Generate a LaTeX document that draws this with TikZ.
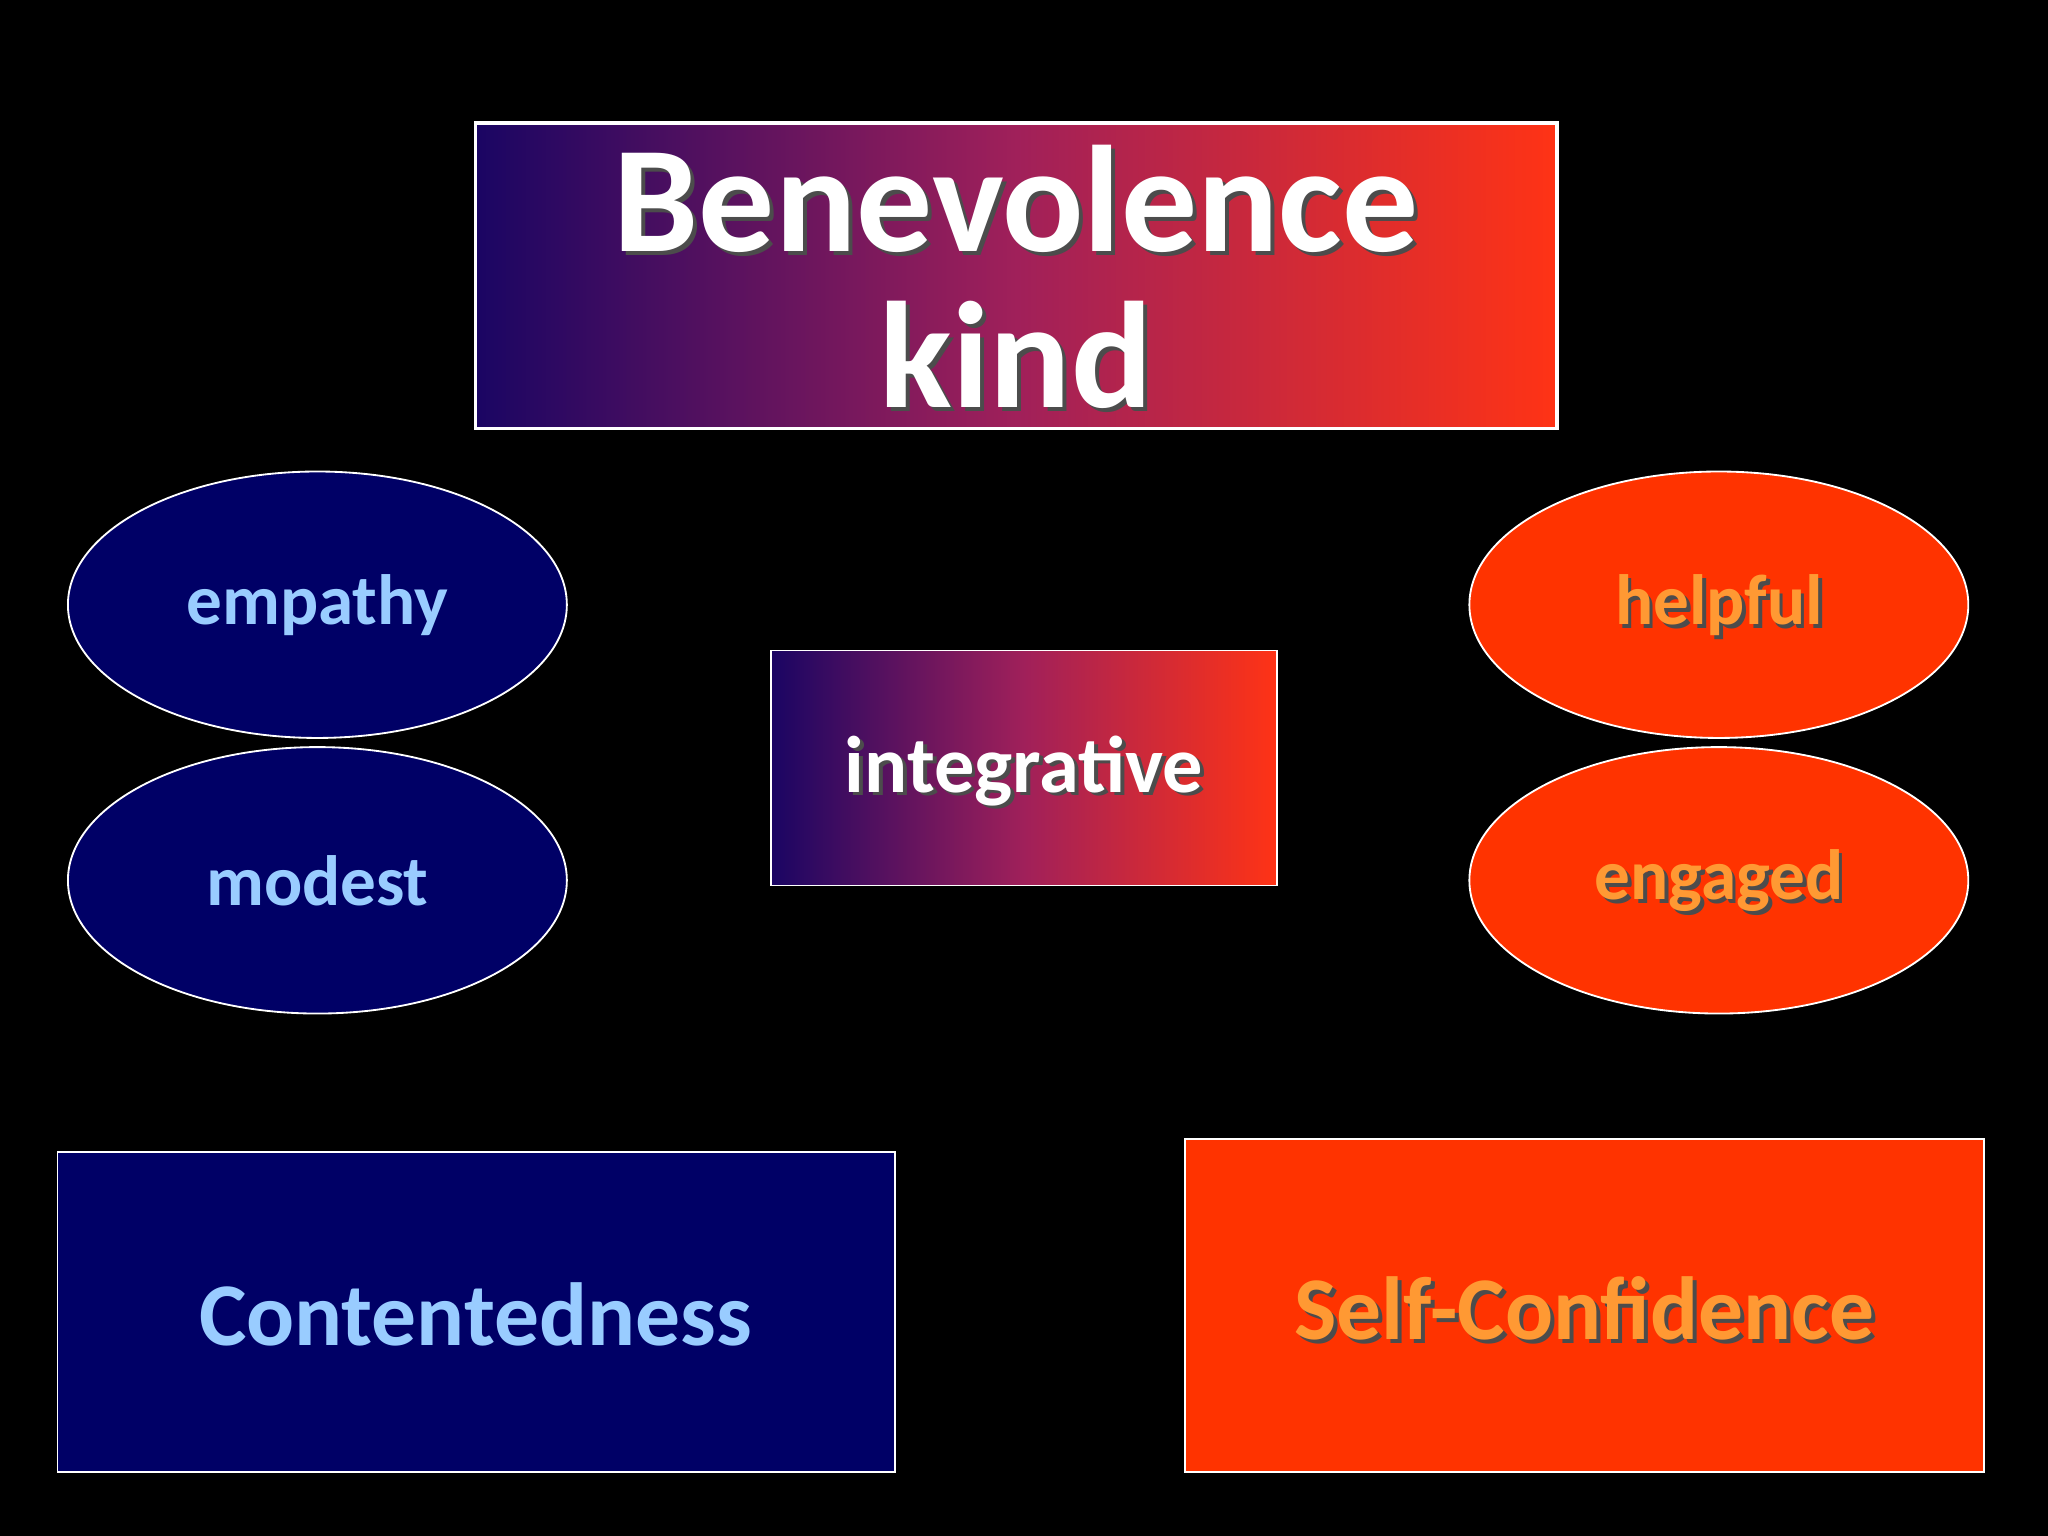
\documentclass[tikz,border=0pt]{standalone}
\usepackage{fontspec}
\setmainfont{Carlito}
\usetikzlibrary{shapes.geometric}
\definecolor{navy}{HTML}{000066}
\definecolor{redf}{HTML}{FF3300}
\definecolor{lblue}{HTML}{99CCFF}
\definecolor{orng}{HTML}{FF9933}
\definecolor{gl}{HTML}{1A0563}
\definecolor{gm}{HTML}{A0205A}
\definecolor{gr}{HTML}{FF3315}
\tikzset{x=0.01cm,y=-0.01cm,
 gradbox/.style={draw=white,line width=0.8pt,left color=gl,right color=gr,middle color=gm,shading angle=90},
 oval/.style={ellipse,draw=white,line width=0.4pt,minimum width=382\pgflinewidth,inner sep=0pt},
 bluebox/.style={draw=white,line width=0.4pt,fill=navy},
 redbox/.style={draw=white,line width=0.4pt,fill=redf},
 lbl/.style={font=\bfseries,inner sep=0pt}}
\newcommand{\shtext}[4]{\node[lbl,text=black!70,#1] at ([shift={(3,3)}]#2) {#4};\node[lbl,text=#3,#1] at (#2) {#4};}
\begin{document}
\begin{tikzpicture}
\useasboundingbox[fill=black] (0,0) rectangle (1568,1176);
\draw[gradbox] (364,94) rectangle (1192,328);
\coordinate (t1) at (778,152);
\coordinate (t2) at (778,272);
\shtext{font=\fontsize{33}{36}\bfseries}{t1}{white}{Benevolence}
\shtext{font=\fontsize{33}{36}\bfseries}{t2}{white}{kind}
\draw[bluebox] (243,463) ellipse [x radius=191,y radius=102];
\draw[bluebox] (243,674) ellipse [x radius=191,y radius=102];
\draw[redbox] (1316,463) ellipse [x radius=191,y radius=102];
\draw[redbox] (1316,674) ellipse [x radius=191,y radius=102];
\node[lbl,text=lblue,font=\fontsize{15.5}{18}\bfseries] (e) at (243,463) {empathy};
\node[lbl,text=lblue,font=\fontsize{15.5}{18}\bfseries] (m) at (243,674) {modest};
\coordinate (h) at (1316,463);
\coordinate (g) at (1316,674);
\shtext{font=\fontsize{15.5}{18}\bfseries}{h}{orng}{helpful}
\shtext{font=\fontsize{15.5}{18}\bfseries}{g}{orng}{engaged}
\draw[gradbox,line width=0.4pt] (590,498) rectangle (978,678);
\coordinate (i) at (784,590);
\shtext{font=\fontsize{17.5}{20}\bfseries}{i}{white}{integrative}
\draw[bluebox] (44,882) rectangle (685,1127);
\node[lbl,text=lblue,font=\fontsize{19.5}{22}\bfseries] (c) at (364,1006) {Contentedness};
\draw[redbox] (907,872) rectangle (1519,1127);
\coordinate (s) at (1213,1002);
\shtext{font=\fontsize{19.5}{22}\bfseries}{s}{orng}{Self-Confidence}
\end{tikzpicture}
\end{document}
